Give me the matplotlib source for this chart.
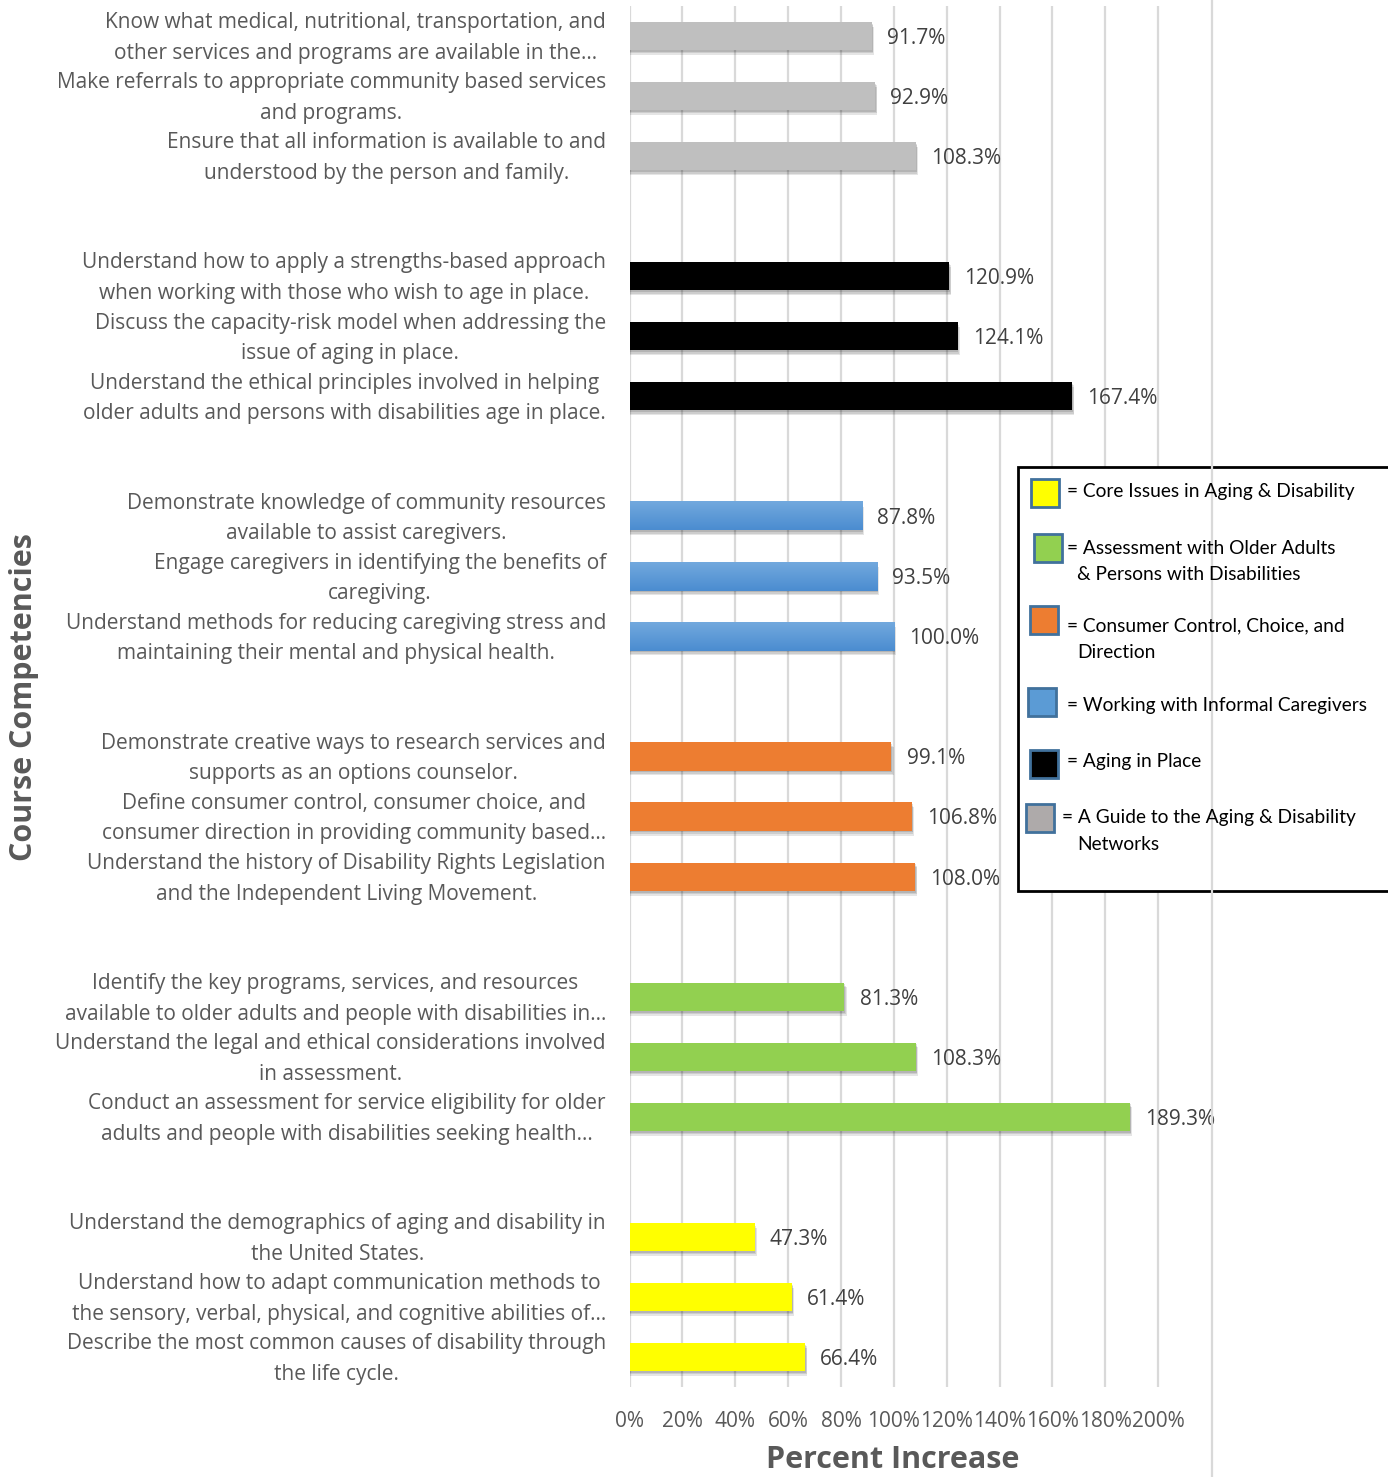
import numpy as np
import matplotlib.pyplot as plt
from matplotlib.patches import Rectangle
from matplotlib.colors import LinearSegmentedColormap
from matplotlib.lines import Line2D

# data, in the order shown from top to bottom
guide_labels = ['Know what medical, nutritional, transportation, and\nother services and programs are available in the…',
                'Make referrals to appropriate community based services\nand programs.',
                'Ensure that all information is available to and\nunderstood by the person and family.']
guide_values = [91.7, 92.9, 108.3]

place_labels = ['Understand how to apply a strengths-based approach\nwhen working with those who wish to age in place.',
                'Discuss the capacity-risk model when addressing the\nissue of aging in place.',
                'Understand the ethical principles involved in helping\nolder adults and persons with disabilities age in place.']
place_values = [120.9, 124.1, 167.4]

caregiver_labels = ['Demonstrate knowledge of community resources\navailable to assist caregivers.',
                    'Engage caregivers in identifying the benefits of\ncaregiving.',
                    'Understand methods for reducing caregiving stress and\nmaintaining their mental and physical health.']
caregiver_values = [87.8, 93.5, 100.0]

consumer_labels = ['Demonstrate creative ways to research services and\nsupports as an options counselor.',
                   'Define consumer control, consumer choice, and\nconsumer direction in providing community based…',
                   'Understand the history of Disability Rights Legislation\nand the Independent Living Movement.']
consumer_values = [99.1, 106.8, 108.0]

assess_labels = ['Identify the key programs, services, and resources\navailable to older adults and people with disabilities in…',
                 'Understand the legal and ethical considerations involved\nin assessment.',
                 'Conduct an assessment for service eligibility for older\nadults and people with disabilities seeking health…']
assess_values = [81.3, 108.3, 189.3]

core_labels = ['Understand the demographics of aging and disability in\nthe United States.',
               'Understand how to adapt communication methods to\nthe sensory, verbal, physical, and cognitive abilities of…',
               'Describe the most common causes of disability through\nthe life cycle.']
core_values = [47.3, 61.4, 66.4]

groups = [
    (guide_labels, guide_values, '#BFBFBF'),
    (place_labels, place_values, '#000000'),
    (caregiver_labels, caregiver_values, '#5B9BD5'),
    (consumer_labels, consumer_values, '#ED7D31'),
    (assess_labels, assess_values, '#92D050'),
    (core_labels, core_values, '#FFFF00'),
]

legend_entries = [
    ('= Core Issues in Aging & Disability', '', '#FFFF00'),
    ('= Assessment with Older Adults', '& Persons with Disabilities', '#92D050'),
    ('= Consumer Control, Choice, and', 'Direction', '#ED7D31'),
    ('= Working with Informal Caregivers', '', '#5B9BD5'),
    ('= Aging in Place', '', '#000000'),
    ('= A Guide to the Aging & Disability', 'Networks', '#AEAAAA'),
]

xticks = [0, 20, 40, 60, 80, 100, 120, 140, 160, 180, 200]

W, H = 1388, 1477
TXT = '#595959'
plt.rcParams['font.family'] = ['Open Sans', 'DejaVu Sans']

fig = plt.figure(figsize=(W / 100, H / 100), dpi=100)
ax = fig.add_axes([629.5 / W, 1 - 1387 / H, (1211 - 629.5) / W, (1387 - 6) / H])

bar_h = 0.47
blue_cmap = LinearSegmentedColormap.from_list('bl', ['#72A9DE', '#4B8CD0'])

for g, (labels, values, color) in enumerate(groups):
    for i, (lab, v) in enumerate(zip(labels, values)):
        y = g * 4 + i
        # soft drop shadow
        for k, a in enumerate([0.10, 0.10, 0.12]):
            off = 0.6 + 0.4 * (2 - k)
            ax.barh(y + 0.03 + 0.025 * (2 - k), v + off * 0.6, height=bar_h,
                    color='black', alpha=a, lw=0, zorder=2)
        if color == '#5B9BD5':
            grad = np.linspace(0, 1, 50).reshape(-1, 1)
            ax.imshow(grad, cmap=blue_cmap, aspect='auto', zorder=3,
                      extent=(0, v, y + bar_h / 2, y - bar_h / 2))
        else:
            ax.barh(y, v, height=bar_h, color=color, lw=0, zorder=3)
        ax.text(v + 5.8, y + 0.04, f'{v:.1f}%', va='center', ha='left', fontsize=15,
                color='#404040', zorder=4)
        ax.text(-8.9, y + 0.035, lab, ha='right', va='center', multialignment='center',
                fontsize=15, color=TXT, linespacing=1.6, clip_on=False)

ax.set_xlim(0, 220)
ax.set_ylim(22.5, -0.5)
ax.set_xticks(xticks)
ax.set_xticklabels([f'{t}%' for t in xticks], fontsize=15, color=TXT)
ax.set_yticks([])
ax.tick_params(axis='x', length=0, pad=17)
ax.grid(axis='x', color='#D9D9D9', lw=1.6, zorder=0)
for s in ax.spines.values():
    s.set_visible(False)

# overlay in pixel coordinates for the legend and frame line
ov = fig.add_axes([0, 0, 1, 1], zorder=5)
ov.set_xlim(0, W)
ov.set_ylim(H, 0)
ov.axis('off')
ov.patch.set_alpha(0)
ov.add_line(Line2D([1212.5, 1212.5], [0, H], color='#D9D9D9', lw=1.6))

ov.add_patch(Rectangle((1018, 467), 380, 424, facecolor='white',
                       edgecolor='black', lw=2))
sq_x = [1031, 1034, 1030, 1028, 1030, 1026]
sq_y = [479, 534, 606, 688, 750, 804]
txt_y = [492, 548, 626, 705, 761, 818]
for (l1, l2, c), sx, sy, ty in zip(legend_entries, sq_x, sq_y, txt_y):
    ov.add_patch(Rectangle((sx, sy), 28, 28, facecolor=c, edgecolor='#41719C', lw=2))
    tx = 1062 if c == '#AEAAAA' else 1067
    ov.text(tx, ty, l1, ha='left', va='center', fontsize=13.8,
            family=['Lato', 'DejaVu Sans'], color='black')
    if l2:
        ov.text(1077, ty + 27, l2, ha='left', va='center', fontsize=13.8,
                family=['Lato', 'DejaVu Sans'], color='black')

ov.text(893, 1460, 'Percent Increase', ha='center', va='center', fontsize=22,
        fontweight='bold', color=TXT)
ov.text(24, 697, 'Course Competencies', ha='center', va='center', fontsize=22,
        fontweight='bold', color=TXT, rotation=90)

fig.savefig('out.png', dpi=100)
